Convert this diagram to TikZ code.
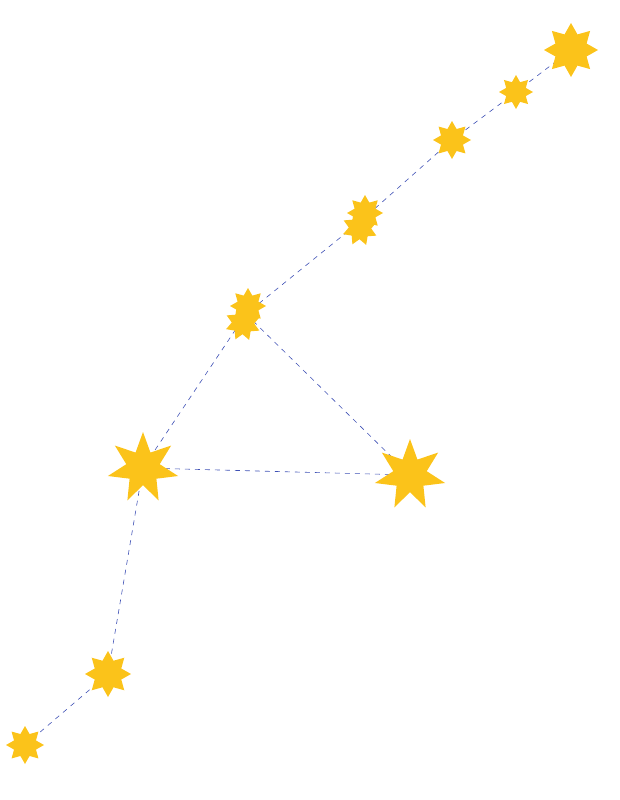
\documentclass[tikz,border=0pt]{standalone}
\usetikzlibrary{shapes.geometric}
\definecolor{gold}{HTML}{FBC31A}
\definecolor{linkblue}{HTML}{3F51B5}
\tikzset{
  bigstar/.style={star,star points=7,star point ratio=2.1,fill=gold,draw=none,inner sep=0pt,minimum size=#1},
  smallstar/.style={star,star points=8,star point ratio=1.6,fill=gold,draw=none,inner sep=0pt,minimum size=#1},
  link/.style={linkblue,dashed,line width=0.6pt,dash pattern=on 5pt off 5pt}
}
\begin{document}
\begin{tikzpicture}[x=1pt,y=-1pt]
\useasboundingbox (0,0) rectangle (619,800);
% lines first
\coordinate (a) at (571,50);
\coordinate (b) at (516,92);
\coordinate (c) at (452,140);
\coordinate (d) at (362,220);
\coordinate (e) at (246,314);
\coordinate (f) at (143,468);
\coordinate (g) at (410,475);
\coordinate (h) at (108,674);
\coordinate (i) at (25,745);
\draw[link] (i) -- (h) -- (f) -- (e) -- (d) -- (c) -- (b) -- (a);
\draw[link] (e) -- (g) -- (f);
% stars
\node[smallstar=54pt] (sa) at (a) {};
\node[smallstar=34pt] (sb) at (b) {};
\node[smallstar=38pt] (sc) at (c) {};
\node[smallstar=36pt] (sd1) at (365,213) {};
\node[smallstar=36pt,rotate=20] (sd2) at (360,228) {};
\node[smallstar=36pt] (se1) at (248,306) {};
\node[smallstar=36pt,rotate=20] (se2) at (243,323) {};
\node[bigstar=72pt] (sf) at (f) {};
\node[bigstar=72pt] (sg) at (g) {};
\node[smallstar=46pt] (sh) at (h) {};
\node[smallstar=38pt] (si) at (i) {};
\end{tikzpicture}
\end{document}
